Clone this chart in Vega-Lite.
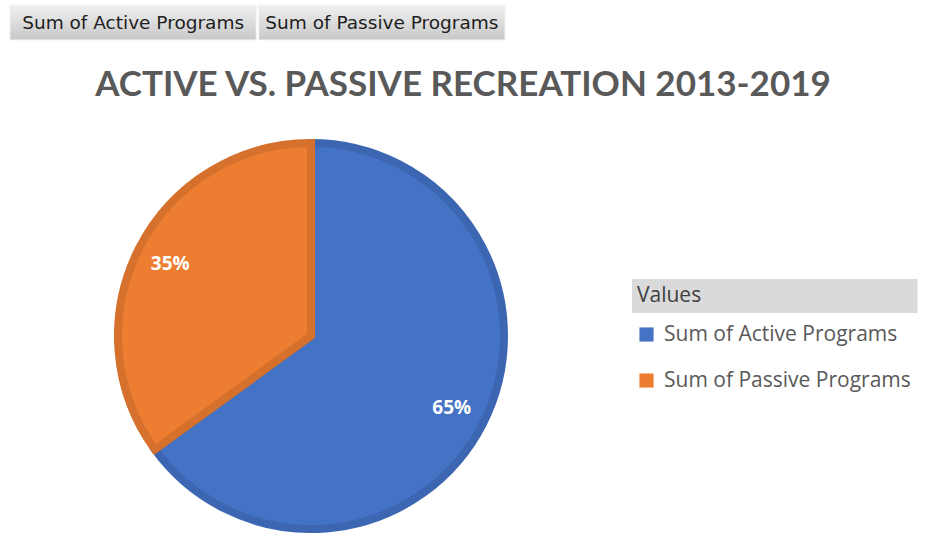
{
  "$schema": "https://vega.github.io/schema/vega-lite/v6.json",
  "background": "white",
  "padding": {"left": 0, "top": 4, "right": 0, "bottom": 0},
  "spacing": 27,
  "config": {"view": {"stroke": null}},
  "vconcat": [
    {
      "width": 515,
      "height": 35,
      "data": {"values": [
        {"button": "Sum of Active Programs"},
        {"button": "Sum of Passive Programs"}
      ]},
      "encoding": {
        "x": {"field": "button", "type": "nominal", "axis": null,
              "scale": {"paddingInner": 0.01, "paddingOuter": 0.04}}
      },
      "layer": [
        {
          "mark": {"type": "bar", "stroke": "#f4f4f4", "strokeWidth": 1,
                   "fill": {"gradient": "linear", "x1": 0, "y1": 0, "x2": 0, "y2": 1,
                            "stops": [{"offset": 0, "color": "#f0f0f0"}, {"offset": 1, "color": "#c8c8c8"}]}}
        },
        {
          "mark": {"type": "text", "font": "DejaVu Sans", "fontSize": 18.5, "color": "#1e1e1e"},
          "encoding": {"text": {"field": "button"}}
        }
      ]
    },
    {
      "width": 622,
      "height": 400,
      "title": {
        "text": "ACTIVE VS. PASSIVE RECREATION 2013-2019",
        "font": "Lato", "fontSize": 35, "fontWeight": "bold", "color": "#595959",
        "anchor": "middle", "frame": "group", "dx": 152, "offset": 24
      },
      "data": {"values": [
        {"series": "Sum of Active Programs", "rank": 1, "share": 0.65},
        {"series": "Sum of Passive Programs", "rank": 2, "share": 0.35}
      ]},
      "encoding": {
        "theta": {"field": "share", "type": "quantitative", "stack": true},
        "order": {"field": "rank", "type": "quantitative"}
      },
      "layer": [
        {
          "mark": {"type": "arc", "outerRadius": 193, "strokeWidth": 8},
          "encoding": {
            "color": {
              "field": "series", "type": "nominal",
              "scale": {"range": ["#4472c4", "#ed7d31"]},
              "legend": {
                "orient": "none", "legendX": 636, "legendY": 319,
                "title": null, "symbolType": "square", "symbolSize": 200,
                "symbolStrokeWidth": 0, "labelFont": "Open Sans", "labelFontSize": 21,
                "labelColor": "#595959", "labelOffset": 7, "labelLimit": 320,
                "rowPadding": 24, "padding": 0
              }
            },
            "stroke": {
              "field": "series", "type": "nominal",
              "scale": {"range": ["#3d66b2", "#d5712c"]}, "legend": null
            },
            "opacity": {
              "datum": "Values", "type": "ordinal",
              "scale": {"range": [1]},
              "legend": {
                "orient": "none", "legendX": 632, "legendY": 274,
                "title": null, "padding": 0,
                "symbolType": "M-1,-1H15.8V1H-1Z", "symbolSize": 1156,
                "symbolFillColor": "#dadada", "symbolStrokeWidth": 0, "symbolOpacity": 1,
                "labelFont": "Open Sans", "labelFontSize": 21, "labelColor": "#404040",
                "labelOffset": -29
              }
            }
          }
        },
        {
          "mark": {"type": "text", "radius": 158, "font": "Open Sans", "fontSize": 19,
                   "fontWeight": "bold", "color": "white"},
          "encoding": {
            "text": {"field": "share", "type": "quantitative", "format": ".0%"}
          }
        }
      ]
    }
  ]
}
